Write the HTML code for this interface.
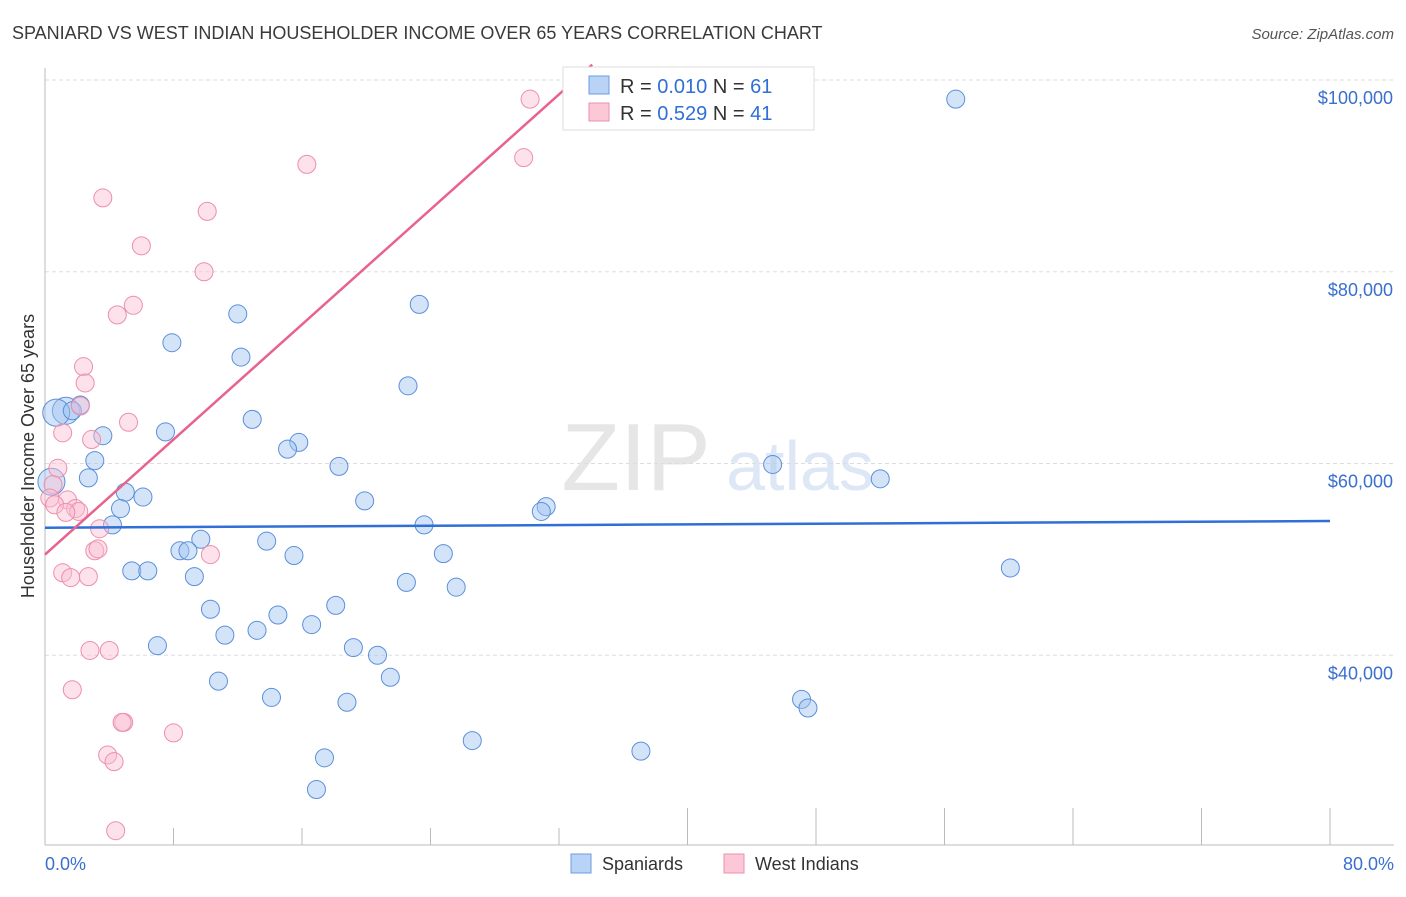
<!DOCTYPE html>
<html><head><meta charset="utf-8"><style>
body{margin:0;background:#fff;font-family:"Liberation Sans",sans-serif}
svg text{font-family:"Liberation Sans",sans-serif}
</style></head><body>
<svg id="chart" width="1406" height="892" xmlns="http://www.w3.org/2000/svg">
<text x="12" y="39" font-size="18" fill="#3a3a3a">SPANIARD VS WEST INDIAN HOUSEHOLDER INCOME OVER 65 YEARS CORRELATION CHART</text>
<text x="1394" y="39" font-size="15" fill="#555" text-anchor="end" font-style="italic">Source: ZipAtlas.com</text>
<g>
<text x="636" y="490" font-size="96" fill="#e6e6e6" text-anchor="middle" font-family="Liberation Serif">ZIP</text>
<text x="800" y="490" font-size="70" fill="#dde7f5" text-anchor="middle">atlas</text>
</g>
<g id="grid"></g>
<g id="axes"></g>
<g id="marks"></g>
<text transform="translate(34,456) rotate(-90)" font-size="18" fill="#333" text-anchor="middle">Householder Income Over 65 years</text>
<text x="45" y="870" font-size="18" fill="#3a6fd0">0.0%</text>
<text x="1394" y="870" font-size="18" fill="#3a6fd0" text-anchor="end">80.0%</text>
<g>
<rect x="563" y="67" width="251" height="63" fill="#fff" stroke="#ddd"/>
<rect x="589" y="76" width="20" height="18" fill="#b8d3f5" stroke="#6d9be0"/>
<rect x="589" y="103" width="20" height="18" fill="#fcc8d7" stroke="#ee8fac"/>
<text x="620" y="93" font-size="20" fill="#333">R = <tspan fill="#2f6fd6">0.010</tspan>   N = <tspan fill="#2f6fd6">61</tspan></text>
<text x="620" y="120" font-size="20" fill="#333">R = <tspan fill="#2f6fd6">0.529</tspan>   N = <tspan fill="#2f6fd6">41</tspan></text>
</g>
<g>
<rect x="571" y="854" width="20" height="19" fill="#b8d3f5" stroke="#6d9be0"/>
<text x="602" y="870" font-size="18" fill="#333">Spaniards</text>
<rect x="724" y="854" width="20" height="19" fill="#fcc8d7" stroke="#ee8fac"/>
<text x="755" y="870" font-size="18" fill="#333">West Indians</text>
</g>
</svg>
<script>
const yTicks=[40,60,80,100];
const yTickLabels=["$40,000","$60,000","$80,000","$100,000"];
const blueX=[56.7,23.3,12.0,7.9,12.2,22.6,1.3,0.7,2.2,1.7,12.9,7.5,3.6,15.8,15.1,3.1,18.3,45.3,2.7,52.0,0.4,5.0,6.1,19.9,4.7,31.2,30.9,4.2,23.6,9.7,13.8,8.4,8.9,24.8,15.5,60.1,5.4,6.4,9.3,22.5,25.6,18.1,10.3,14.5,16.6,11.2,13.2,7.0,19.2,20.7,21.5,10.8,14.1,47.1,47.5,18.8,26.6,37.1,17.4,16.9];
const blueY=[98.0,76.6,75.6,72.6,71.1,68.1,65.5,65.3,66.1,65.5,64.6,63.3,62.9,62.2,61.5,60.3,59.7,59.9,58.5,58.4,58.1,57.0,56.5,56.1,55.3,55.5,55.0,53.6,53.6,52.1,51.9,50.9,50.9,50.6,50.4,49.1,48.8,48.8,48.2,47.6,47.1,45.2,44.8,44.2,43.2,42.1,42.6,41.0,40.8,40.0,37.7,37.3,35.6,35.4,34.5,35.1,31.1,30.0,29.3,26.0];
const blueSize=[1,1,1,1,1,1,1.5,1.5,1,1,1,1,1,1,1,1,1,1,1,1,1.5,1,1,1,1,1,1,1,1,1,1,1,1,1,1,1,1,1,1,1,1,1,1,1,1,1,1,1,1,1,1,1,1,1,1,1,1,1,1,1];
const pinkX=[30.2,29.8,16.3,3.6,10.1,6.0,9.9,5.5,4.5,2.4,2.5,2.2,5.2,1.1,2.9,0.8,0.5,0.3,1.4,0.6,1.9,2.1,1.3,3.4,3.1,3.3,10.3,1.1,1.6,2.7,2.8,4.0,1.7,4.9,4.8,8.0,3.9,4.3,4.4];
const pinkY=[98.0,91.9,91.2,87.7,86.3,82.7,80.0,76.5,75.5,70.1,68.4,66.0,64.3,63.2,62.5,59.5,57.8,56.4,56.2,55.7,55.3,55.0,54.9,53.2,50.9,51.1,50.5,48.6,48.1,48.2,40.5,40.5,36.4,33.0,33.0,31.9,29.6,28.9,21.7];
const blueTrend=[53.3,0.00875];
const pinkTrend=[50.5,1.5];
const xs=v=>45+v/80*1285;
const ys=v=>80+(100-v)*767/80;
const NS="http://www.w3.org/2000/svg";
function mk(tag,attrs,parent){const e=document.createElementNS(NS,tag);for(const k in attrs)e.setAttribute(k,attrs[k]);parent.appendChild(e);return e;}
const grid=document.getElementById('grid'),axes=document.getElementById('axes'),marks=document.getElementById('marks');
yTicks.forEach((t,i)=>{
 const l=mk('line',{x1:45,x2:1394,y1:ys(t),y2:ys(t),stroke:'#ddd','stroke-dasharray':'4 3'},grid);
 
 
 const tx=mk('text',{x:1393,y:ys(t)+24,'font-size':18,fill:'#3a6fd0','text-anchor':'end'},grid);
 tx.textContent=yTickLabels[i];
 
 
});
const ax=mk('line',{x1:45,x2:1394,y1:845,y2:845,stroke:'#bbb'},axes);


const ay=mk('line',{x1:45,x2:45,y1:68,y2:845,stroke:'#bbb'},axes);


for(let i=1;i<=10;i++){
 const tk=mk('line',{x1:xs(i*8),x2:xs(i*8),y1:(i>=5?808:828),y2:845,stroke:'#bbb'},axes);
 
 
}
blueX.forEach((x,i)=>{
 const c=mk('circle',{cx:xs(x),cy:ys(blueY[i]),r:9*blueSize[i],fill:'rgba(160,195,240,0.45)',stroke:'#5b8fdc','stroke-width':1},marks);
 
 
});
pinkX.forEach((x,i)=>{
 const c=mk('circle',{cx:xs(x),cy:ys(pinkY[i]),r:9,fill:'rgba(250,190,210,0.45)',stroke:'#ec8fab','stroke-width':1},marks);
 
 
});
const bl=mk('line',{x1:xs(0),y1:ys(blueTrend[0]),x2:xs(80),y2:ys(blueTrend[0]+blueTrend[1]*80),stroke:'#2f6fd6','stroke-width':2.5},marks);


const pEnd=(101.6-pinkTrend[0])/pinkTrend[1];
const pl=mk('line',{x1:xs(0),y1:ys(pinkTrend[0]),x2:xs(pEnd),y2:ys(pinkTrend[0]+pinkTrend[1]*pEnd),stroke:'#e8628d','stroke-width':2.5},marks);


</script>
</body></html>
